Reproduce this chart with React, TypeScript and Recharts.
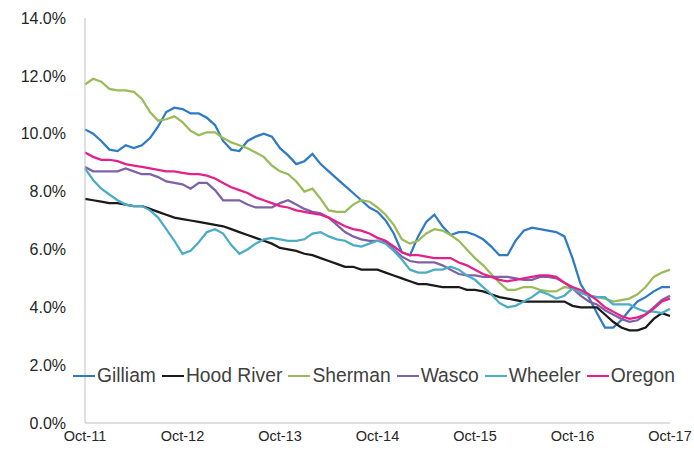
import React from 'react';
import { LineChart, Line, XAxis, YAxis, Legend } from 'recharts';

// monthly unemployment rate, Oct-11 .. Oct-17 (73 points)
const gilliam = [10.15, 10.0, 9.75, 9.45, 9.4, 9.6, 9.5, 9.6, 9.85, 10.25, 10.75, 10.9, 10.85,
  10.7, 10.7, 10.55, 10.3, 9.75, 9.45, 9.4, 9.75, 9.9, 10.0, 9.9, 9.5,
  9.25, 8.95, 9.05, 9.3, 8.95, 8.7, 8.45, 8.2, 7.95, 7.7, 7.45, 7.3,
  7.0, 6.55, 5.9, 5.8, 6.45, 6.95, 7.2, 6.8, 6.5, 6.6, 6.6, 6.5,
  6.35, 6.1, 5.8, 5.8, 6.3, 6.65, 6.75, 6.7, 6.65, 6.6, 6.45, 5.7,
  4.8, 4.35, 3.8, 3.3, 3.3, 3.55, 3.9, 4.2, 4.35, 4.55, 4.7, 4.7];

const hoodRiver = [7.75, 7.7, 7.65, 7.6, 7.6, 7.55, 7.5, 7.5, 7.4, 7.3, 7.2, 7.1, 7.05,
  7.0, 6.95, 6.9, 6.85, 6.8, 6.7, 6.6, 6.5, 6.4, 6.3, 6.2, 6.05,
  6.0, 5.95, 5.85, 5.8, 5.7, 5.6, 5.5, 5.4, 5.4, 5.3, 5.3, 5.3,
  5.2, 5.1, 5.0, 4.9, 4.8, 4.8, 4.75, 4.7, 4.7, 4.7, 4.6, 4.6,
  4.55, 4.45, 4.35, 4.3, 4.25, 4.2, 4.2, 4.2, 4.2, 4.2, 4.2, 4.05,
  4.0, 4.0, 4.0, 3.75, 3.5, 3.3, 3.2, 3.2, 3.3, 3.6, 3.8, 3.7];

const sherman = [11.7, 11.9, 11.8, 11.55, 11.5, 11.5, 11.45, 11.2, 10.75, 10.45, 10.5, 10.6, 10.4,
  10.1, 9.95, 10.05, 10.05, 9.85, 9.7, 9.6, 9.5, 9.35, 9.2, 8.9, 8.7,
  8.6, 8.35, 8.0, 8.1, 7.75, 7.35, 7.3, 7.3, 7.55, 7.7, 7.65, 7.45,
  7.2, 6.85, 6.35, 6.2, 6.3, 6.55, 6.7, 6.65, 6.5, 6.3, 6.0, 5.7,
  5.45, 5.15, 4.85, 4.6, 4.6, 4.7, 4.7, 4.6, 4.55, 4.55, 4.7, 4.65,
  4.5, 4.4, 4.35, 4.3, 4.2, 4.25, 4.3, 4.45, 4.7, 5.05, 5.2, 5.3];

const wasco = [8.85, 8.7, 8.7, 8.7, 8.7, 8.8, 8.7, 8.6, 8.6, 8.5, 8.35, 8.3, 8.25,
  8.1, 8.3, 8.3, 8.05, 7.7, 7.7, 7.7, 7.55, 7.45, 7.45, 7.45, 7.6,
  7.7, 7.55, 7.4, 7.3, 7.25, 7.1, 6.85, 6.6, 6.45, 6.35, 6.3, 6.3,
  6.25, 6.0, 5.75, 5.6, 5.55, 5.55, 5.55, 5.45, 5.3, 5.15, 5.1, 5.1,
  5.05, 5.05, 5.05, 5.05, 5.0, 4.95, 4.95, 5.05, 5.05, 5.0, 4.85, 4.65,
  4.4, 4.2, 4.1, 3.9, 3.75, 3.6, 3.5, 3.55, 3.75, 4.0, 4.25, 4.4];

const wheeler = [8.8, 8.4, 8.1, 7.9, 7.7, 7.55, 7.5, 7.5, 7.35, 7.1, 6.7, 6.3, 5.85,
  5.95, 6.25, 6.6, 6.7, 6.55, 6.15, 5.85, 6.0, 6.2, 6.35, 6.4, 6.35,
  6.3, 6.3, 6.35, 6.55, 6.6, 6.45, 6.35, 6.3, 6.15, 6.1, 6.2, 6.3,
  6.2, 5.95, 5.65, 5.3, 5.2, 5.2, 5.3, 5.3, 5.4, 5.3, 5.1, 4.95,
  4.7, 4.45, 4.15, 4.0, 4.05, 4.2, 4.35, 4.55, 4.45, 4.3, 4.4, 4.65,
  4.5, 4.4, 4.35, 4.35, 4.1, 4.1, 4.1, 3.95, 3.85, 3.85, 3.8, 3.95];

const oregon = [9.35, 9.2, 9.1, 9.1, 9.05, 8.95, 8.9, 8.85, 8.8, 8.75, 8.7, 8.7, 8.65,
  8.6, 8.6, 8.55, 8.45, 8.3, 8.15, 8.05, 7.95, 7.8, 7.7, 7.6, 7.5,
  7.45, 7.35, 7.3, 7.25, 7.2, 7.1, 6.95, 6.8, 6.7, 6.65, 6.55, 6.4,
  6.3, 6.1, 5.9, 5.8, 5.8, 5.75, 5.7, 5.7, 5.7, 5.55, 5.45, 5.3,
  5.15, 5.05, 4.95, 4.9, 4.95, 5.0, 5.05, 5.1, 5.1, 5.05, 4.85, 4.7,
  4.6, 4.45, 4.25, 4.0, 3.85, 3.7, 3.6, 3.65, 3.75, 3.95, 4.2, 4.3];

const yearLabels = ['Oct-11', 'Oct-12', 'Oct-13', 'Oct-14', 'Oct-15', 'Oct-16', 'Oct-17'];
const yTicks = [0, 2, 4, 6, 8, 10, 12, 14];

const series = [
  { name: 'Gilliam', values: gilliam, color: '#2E7BC4' },
  { name: 'Hood River', values: hoodRiver, color: '#1A1A1A' },
  { name: 'Sherman', values: sherman, color: '#9BBB59' },
  { name: 'Wasco', values: wasco, color: '#7F62A6' },
  { name: 'Wheeler', values: wheeler, color: '#4BACC6' },
  { name: 'Oregon', values: oregon, color: '#E4208A' },
];

const data = gilliam.map((_, i) => {
  const row: Record<string, number> = { idx: i };
  series.forEach((s) => { row[s.name] = s.values[i]; });
  return row;
});

const FONT = '"Liberation Sans", Arial, sans-serif';

function LegendRow() {
  return (
    <div style={{ display: 'flex', alignItems: 'center', fontFamily: FONT, fontSize: 19.3, color: '#404040', whiteSpace: 'nowrap' }}>
      {series.map((s) => (
        <div key={s.name} style={{ display: 'flex', alignItems: 'center', marginRight: 6 }}>
          <svg width={22} height={4}>
            <line x1={0} y1={2} x2={22} y2={2} stroke={s.color} strokeWidth={2} />
          </svg>
          <span style={{ marginLeft: 2 }}>{s.name}</span>
        </div>
      ))}
    </div>
  );
}

export default function App() {
  return (
    <div style={{ position: 'absolute', left: 0, top: 0, background: '#fff', fontFamily: FONT }}>
      <LineChart width={694} height={450} data={data} margin={{ top: 18, right: 24, bottom: 0, left: 0 }}>
        <XAxis
          dataKey="idx"
          type="number"
          domain={[0, 72]}
          ticks={[0, 12, 24, 36, 48, 60, 72]}
          interval={0}
          tickFormatter={(v: number) => yearLabels[v / 12]}
          height={27}
          stroke="#bfbfbf"
          tickLine={false}
          tickSize={6}
          tickMargin={2}
          tick={{ fill: '#262626', fontSize: 14.5, fontFamily: FONT }}
        />
        <YAxis
          type="number"
          domain={[0, 14]}
          ticks={yTicks}
          interval={0}
          width={85}
          tickFormatter={(v: number) => `${v.toFixed(1)}%`}
          stroke="#bfbfbf"
          tickLine={false}
          tickSize={6}
          tickMargin={13}
          tick={{ fill: '#262626', fontSize: 16, fontFamily: FONT }}
        />
        <Legend
          layout="horizontal"
          verticalAlign="middle"
          align="center"
          content={<LegendRow />}
          wrapperStyle={{ top: 365, left: 73, width: 621 }}
        />
        {series.map((s) => (
          <Line
            key={s.name}
            type="linear"
            dataKey={s.name}
            name={s.name}
            stroke={s.color}
            strokeWidth={2.25}
            dot={false}
            isAnimationActive={false}
          />
        ))}
      </LineChart>
    </div>
  );
}
